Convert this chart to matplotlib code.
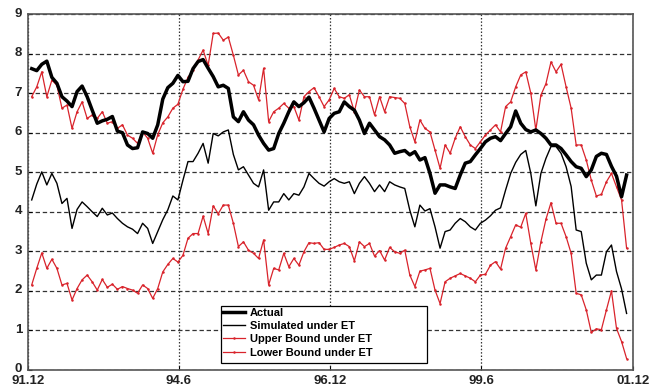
import numpy as np
import matplotlib.pyplot as plt
import matplotlib.transforms as mtransforms
from matplotlib.patches import Rectangle

# Monthly series, 92.1 .. 01.11
actual = [7.62, 7.57, 7.73, 7.81, 7.40, 7.25, 6.91, 6.80, 6.66, 7.04,
          7.18, 6.91, 6.57, 6.24, 6.30, 6.34, 6.41, 6.04, 6.00, 5.69,
          5.60, 5.62, 6.02, 5.98, 5.86, 6.20, 6.85, 7.14, 7.25, 7.45,
          7.29, 7.30, 7.62, 7.80, 7.85, 7.63, 7.42, 7.16, 7.20, 7.12,
          6.40, 6.28, 6.53, 6.32, 6.20, 5.94, 5.73, 5.56, 5.60, 5.98,
          6.24, 6.53, 6.78, 6.66, 6.76, 6.90, 6.62, 6.32, 6.02, 6.36,
          6.49, 6.53, 6.78, 6.66, 6.57, 6.32, 5.98, 6.24, 6.07, 5.90,
          5.82, 5.69, 5.48, 5.52, 5.55, 5.44, 5.52, 5.31, 5.37, 4.97,
          4.47, 4.68, 4.68, 4.63, 4.59, 4.93, 5.23, 5.27, 5.44, 5.60,
          5.77, 5.86, 5.90, 5.80, 5.98, 6.15, 6.55, 6.24, 6.08, 6.02,
          6.07, 5.98, 5.86, 5.69, 5.69, 5.60, 5.44, 5.27, 5.14, 5.10,
          4.89, 5.06, 5.40, 5.48, 5.45, 5.15, 4.90, 4.38, 4.93]

simulated = [4.30, 4.70, 5.01, 4.68, 4.97, 4.72, 4.21, 4.34, 3.58, 4.06,
             4.25, 4.13, 4.00, 3.88, 4.09, 3.92, 3.97, 3.83, 3.71, 3.62,
             3.56, 3.45, 3.71, 3.58, 3.20, 3.50, 3.80, 4.05, 4.40, 4.30,
             4.80, 5.27, 5.27, 5.48, 5.73, 5.23, 5.98, 5.92, 6.02, 6.07,
             5.45, 5.06, 5.14, 4.93, 4.72, 4.63, 5.06, 4.04, 4.25, 4.25,
             4.46, 4.30, 4.46, 4.42, 4.63, 4.97, 4.84, 4.72, 4.65, 4.76,
             4.84, 4.76, 4.72, 4.76, 4.46, 4.72, 4.89, 4.72, 4.51, 4.68,
             4.51, 4.76, 4.68, 4.63, 4.59, 4.04, 3.62, 4.17, 4.02, 4.08,
             3.62, 3.08, 3.50, 3.54, 3.71, 3.83, 3.75, 3.62, 3.54, 3.71,
             3.79, 3.90, 4.04, 4.10, 4.55, 4.97, 5.25, 5.45, 5.55, 4.97,
             4.15, 4.97, 5.35, 5.65, 5.65, 5.48, 5.14, 4.64, 3.54, 3.50,
             2.70, 2.28, 2.40, 2.40, 2.99, 3.16, 2.49, 2.05, 1.43]

upper = [6.91, 7.16, 7.54, 6.91, 7.33, 7.20, 6.62, 6.70, 6.11, 6.53,
         6.78, 6.36, 6.45, 6.36, 6.53, 6.24, 6.28, 6.11, 6.20, 5.94,
         5.86, 5.73, 6.02, 5.86, 5.48, 5.95, 6.25, 6.40, 6.62, 6.72,
         7.10, 7.40, 7.58, 7.84, 8.09, 7.70, 8.51, 8.52, 8.34, 8.42,
         7.96, 7.46, 7.58, 7.29, 7.20, 6.83, 7.63, 6.28, 6.53, 6.62,
         6.74, 6.62, 6.66, 6.32, 6.91, 7.04, 7.14, 6.91, 6.66, 6.83,
         7.12, 6.91, 6.87, 6.96, 6.53, 7.08, 6.91, 6.91, 6.45, 6.91,
         6.53, 6.91, 6.89, 6.87, 6.74, 6.15, 5.77, 6.32, 6.11, 6.02,
         5.56, 5.10, 5.69, 5.48, 5.86, 6.15, 5.90, 5.69, 5.60, 5.77,
         5.94, 6.07, 6.20, 6.02, 6.66, 6.78, 7.16, 7.46, 7.54, 7.00,
         6.07, 6.95, 7.24, 7.79, 7.54, 7.73, 7.16, 6.62, 5.69, 5.69,
         5.31, 4.80, 4.40, 4.44, 4.76, 4.97, 4.63, 4.30, 3.08]

lower = [2.15, 2.57, 2.96, 2.57, 2.80, 2.57, 2.15, 2.19, 1.77, 2.06,
         2.28, 2.40, 2.23, 2.02, 2.29, 2.09, 2.17, 2.04, 2.11, 2.06,
         2.02, 1.94, 2.15, 2.06, 1.81, 2.06, 2.48, 2.67, 2.82, 2.73,
         2.90, 3.33, 3.45, 3.45, 3.89, 3.45, 4.15, 3.95, 4.17, 4.17,
         3.71, 3.12, 3.24, 3.03, 2.95, 2.82, 3.29, 2.15, 2.57, 2.53,
         2.95, 2.61, 2.82, 2.65, 2.99, 3.22, 3.20, 3.22, 3.05, 3.05,
         3.10, 3.16, 3.20, 3.12, 2.76, 3.24, 3.12, 3.20, 2.88, 3.02,
         2.78, 3.10, 2.99, 2.95, 3.03, 2.40, 2.11, 2.50, 2.53, 2.57,
         2.02, 1.68, 2.23, 2.32, 2.38, 2.44, 2.38, 2.32, 2.23, 2.40,
         2.42, 2.65, 2.74, 2.55, 3.08, 3.37, 3.67, 3.61, 3.96, 3.20,
         2.53, 3.24, 3.81, 4.23, 3.71, 3.71, 3.37, 2.95, 1.94, 1.90,
         1.52, 0.95, 1.04, 1.02, 1.52, 2.00, 1.05, 0.72, 0.29]

tick_months = [0, 30, 60, 90, 120]
tick_labels = ['91.12', '94.6', '96.12', '99.6', '01.12']

# month offset from 91.12
months = np.arange(len(actual)) + 0.8

plt.rcParams['font.family'] = ['Liberation Sans', 'DejaVu Sans']

fig = plt.figure(figsize=(6.51, 3.86), dpi=100)
ax = fig.add_axes([0.0425, 0.0415, 0.9293, 0.922])

red = '#d9232b'
ax.plot(months, actual, color='black', lw=2.5, label='Actual', zorder=5)
ax.plot(months, simulated, color='black', lw=1.0, label='Simulated under ET', zorder=4)
ax.plot(months, upper, color=red, lw=0.9, marker='.', markersize=1.6,
        label='Upper Bound under ET', zorder=3)
ax.plot(months, lower, color=red, lw=0.9, marker='.', markersize=1.6,
        label='Lower Bound under ET', zorder=3)

ax.set_xlim(0, 120)
ax.set_ylim(0, 9)
ax.set_xticks(tick_months)
ax.set_xticklabels(tick_labels)
ax.set_yticks(range(10))

ax.xaxis.grid(True, color='#333333', lw=0.9, linestyle=(0, (1.2, 1.5)))
ax.yaxis.grid(True, color='#333333', lw=0.9, linestyle=(0, (3.5, 2.2)))
ax.set_axisbelow(True)

ax.tick_params(axis='both', direction='in', length=3, width=0.8,
               labelsize=9.5)
ax.tick_params(axis='x', pad=3.5)
ax.tick_params(axis='y', pad=4)
for lab in ax.get_xticklabels() + ax.get_yticklabels():
    lab.set_fontweight('bold')
    lab.set_color('#222222')

# nudge the y labels up a little so "0" clears "91.12"
lift = mtransforms.ScaledTranslation(0, 2 / 100, fig.dpi_scale_trans)
for lab in ax.get_yticklabels():
    lab.set_transform(lab.get_transform() + lift)

for sp in ax.spines.values():
    sp.set_color('#555555')
    sp.set_linewidth(1.2)

# legend frame drawn as its own box so it can be wider than the text
box_x0, box_y0, box_x1, box_y1 = 0.3195, 0.0197, 0.660, 0.1798
frame = Rectangle((box_x0, box_y0), box_x1 - box_x0, box_y1 - box_y0,
                  transform=ax.transAxes, facecolor='white',
                  edgecolor='black', lw=0.9, zorder=6)
ax.add_patch(frame)

leg = ax.legend(loc='upper left', bbox_to_anchor=(box_x0, box_y1),
                prop={'size': 8, 'weight': 'bold'}, frameon=False,
                borderpad=0.15, labelspacing=0.3,
                handlelength=2.0, handletextpad=0.45, borderaxespad=0)
leg.set_zorder(7)

fig.savefig('out.png', dpi=100)
